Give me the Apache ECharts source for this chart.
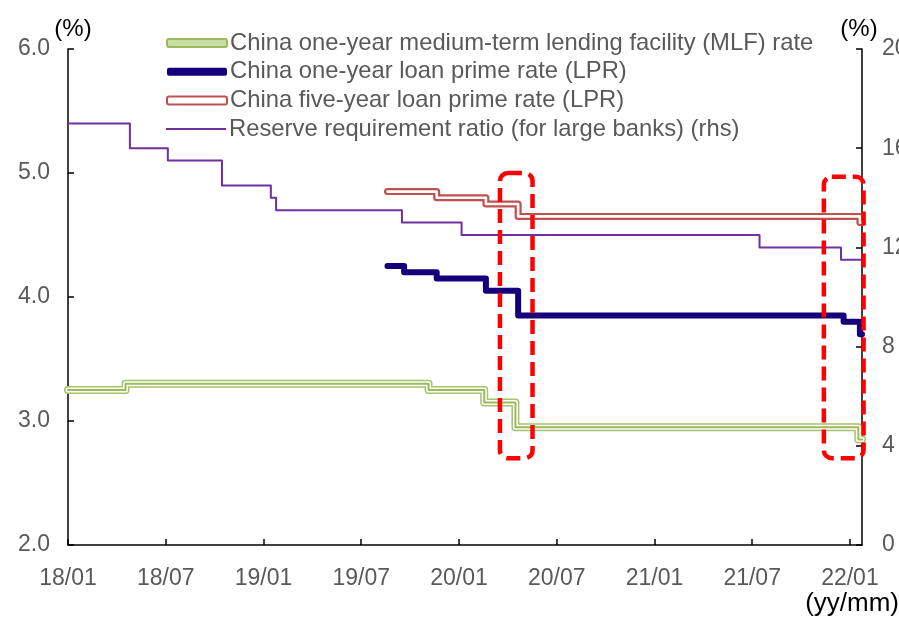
<!DOCTYPE html>
<html>
<head>
<meta charset="utf-8">
<script src="https://cdn.jsdelivr.net/npm/echarts@6/dist/echarts.min.js"></script>
<style>
  html, body { margin: 0; padding: 0; background: #fff; }
  #chart { width: 899px; height: 619px; }
</style>
</head>
<body>
<div id="chart"></div>
<script>
// Policy rate step series: each entry is the date a new level took effect.
const mlfNames = 'China one-year medium-term lending facility (MLF) rate';
const lpr1Name = 'China one-year loan prime rate (LPR)';
const lpr5Name = 'China five-year loan prime rate (LPR)';
const rrrName = 'Reserve requirement ratio (for large banks) (rhs)';

const mlfDates = ['2018-01-01', '2018-04-17', '2019-11-05', '2020-02-17', '2020-04-15', '2022-01-17'];
const mlfValues = [3.25, 3.30, 3.25, 3.15, 2.95, 2.85];

const lpr1Dates = ['2019-08-20', '2019-09-20', '2019-11-20', '2020-02-20', '2020-04-20', '2021-12-20', '2022-01-20'];
const lpr1Values = [4.25, 4.20, 4.15, 4.05, 3.85, 3.80, 3.70];

const lpr5Dates = ['2019-08-20', '2019-11-20', '2020-02-20', '2020-04-20', '2022-01-20'];
const lpr5Values = [4.85, 4.80, 4.75, 4.65, 4.60];

const rrrDates = ['2018-01-01', '2018-04-25', '2018-07-05', '2018-10-15', '2019-01-15', '2019-01-25',
                  '2019-09-16', '2020-01-06', '2021-07-15', '2021-12-15'];
const rrrValues = [17.0, 16.0, 15.5, 14.5, 14.0, 13.5, 13.0, 12.5, 12.0, 11.5];

const lastDate = '2022-01-24';

// Highlighted periods (dashed frames), in date / left-axis units.
const highlightFrom = ['2020-03-17', '2021-11-13'];
const highlightTo = ['2020-05-17', '2022-01-27'];
const highlightTop = [5.0, 4.97];
const highlightBottom = [2.70, 2.70];

const FONT = "'Liberation Sans', Arial, sans-serif";
const GREY = '#595959';

// Months elapsed since 2018/01/01 (fractional within a month).
function toMonths(s) {
  const [y, m, d] = s.split('-').map(Number);
  const dim = new Date(y, m, 0).getDate();
  return (y - 2018) * 12 + (m - 1) + (d - 1) / dim;
}

function stepData(dates, values) {
  const pts = dates.map((d, i) => [toMonths(d), values[i]]);
  pts.push([toMonths(lastDate), values[values.length - 1]]);
  return pts;
}

const xMax = toMonths(lastDate);

function lineSeries(name, data, color, width, yIdx, z) {
  return {
    name: name, type: 'line', step: 'end', data: data, yAxisIndex: yIdx || 0,
    symbol: 'none', silent: true, z: z,
    lineStyle: { color: color, width: width, cap: 'round', join: 'round' },
    itemStyle: { color: color }
  };
}

const mlfData = stepData(mlfDates, mlfValues);
const lpr1Data = stepData(lpr1Dates, lpr1Values);
const lpr5Data = stepData(lpr5Dates, lpr5Values);
const rrrData = stepData(rrrDates, rrrValues);

const chart = echarts.init(document.getElementById('chart'), null, { renderer: 'canvas' });

const axisLine = { show: true, lineStyle: { color: '#000', width: 1.5 } };
const axisTick = { show: true, inside: true, length: 6, lineStyle: { color: '#000', width: 1.5 } };
const legendText = { fontFamily: FONT, fontSize: 23.8, color: GREY, lineHeight: 24, padding: [0, 0, 0, -2] };

chart.setOption({
  animation: false,
  backgroundColor: '#fff',
  grid: { left: 68, right: 37, top: 49, bottom: 74, outerBoundsMode: 'none', containLabel: false },
  legend: [{
    orient: 'vertical', left: 166, top: 31, padding: 0,
    itemWidth: 60, itemHeight: 8, itemGap: 4.7,
    textStyle: legendText,
    data: [
      { name: mlfNames, icon: 'roundRect', itemStyle: { color: '#c9dca6', borderColor: '#9bbb59', borderWidth: 2 } },
      { name: lpr1Name, icon: 'roundRect', itemStyle: { color: '#14007a', borderWidth: 0 } },
      { name: lpr5Name, icon: 'roundRect', itemStyle: { color: '#ffffff', borderColor: '#c0504d', borderWidth: 2 } }
    ]
  }, {
    orient: 'vertical', left: 166, top: 117, padding: 0,
    itemWidth: 60, itemHeight: 2,
    textStyle: legendText,
    data: [{ name: rrrName, icon: 'rect', itemStyle: { color: '#7030a0', borderWidth: 0 } }]
  }],
  xAxis: {
    type: 'value', min: 0, max: xMax, interval: 6,
    axisLine: axisLine, axisTick: axisTick, splitLine: { show: false },
    axisLabel: {
      fontFamily: FONT, fontSize: 23, color: GREY, margin: 22, showMaxLabel: false,
      formatter: function (v) {
        if (Math.abs(v % 6) > 1e-6) return '';
        const yy = 18 + Math.floor(v / 12);
        const mm = (v % 12) + 1;
        return yy + '/' + (mm < 10 ? '0' + mm : mm);
      }
    }
  },
  yAxis: [{
    type: 'value', min: 2, max: 6, interval: 1, position: 'left',
    name: '(%)', nameLocation: 'end', nameGap: 8, nameMoveOverlap: false,
    nameTextStyle: { fontFamily: FONT, fontSize: 24, color: '#000', padding: [0, 0, 0, 10] },
    axisLine: axisLine, axisTick: axisTick, splitLine: { show: false },
    axisLabel: { fontFamily: FONT, fontSize: 23, color: GREY, margin: 18, formatter: v => v.toFixed(1) }
  }, {
    type: 'value', min: 0, max: 20, interval: 4, position: 'right',
    name: '(%)', nameLocation: 'end', nameGap: 8, nameMoveOverlap: false,
    nameTextStyle: { fontFamily: FONT, fontSize: 24, color: '#000', padding: [0, 6, 0, 0] },
    axisLine: axisLine, axisTick: axisTick, splitLine: { show: false },
    axisLabel: { fontFamily: FONT, fontSize: 23, color: GREY, margin: 20 }
  }],
  series: [
    lineSeries(rrrName, rrrData, '#7030a0', 2, 1, 2),
    // MLF: triple-stroke line (outer green, white gap, green core)
    lineSeries(mlfNames, mlfData, '#a5c36b', 8, 0, 3),
    lineSeries('mlf-gap', mlfData, '#ffffff', 5, 0, 4),
    lineSeries('mlf-core', mlfData, '#9bbb59', 2, 0, 5),
    lineSeries(lpr1Name, lpr1Data, '#14007a', 6, 0, 6),
    // Five-year LPR: double-stroke line (red outline, white centre)
    lineSeries(lpr5Name, lpr5Data, '#c0504d', 7, 0, 3),
    lineSeries('lpr5-gap', lpr5Data, '#ffffff', 2.6, 0, 4)
  ]
});

// Dashed frames around the highlighted periods, placed through the axes.
const frames = highlightFrom.map((f, i) => {
  const p0 = chart.convertToPixel({ xAxisIndex: 0, yAxisIndex: 0 }, [toMonths(f), highlightTop[i]]);
  const p1 = chart.convertToPixel({ xAxisIndex: 0, yAxisIndex: 0 }, [toMonths(highlightTo[i]), highlightBottom[i]]);
  return {
    type: 'rect', z: 100,
    shape: { x: p0[0], y: p0[1], width: p1[0] - p0[0], height: p1[1] - p0[1], r: 8 },
    style: { fill: null, stroke: '#ff0000', lineWidth: 4.5, lineDash: [14, 7] }
  };
});
chart.setOption({
  graphic: frames.concat([{
    type: 'text', right: 0, top: 591, z: 100,
    style: { text: '(yy/mm)', font: '26px ' + FONT, fill: '#000' }
  }])
});
</script>
</body>
</html>
